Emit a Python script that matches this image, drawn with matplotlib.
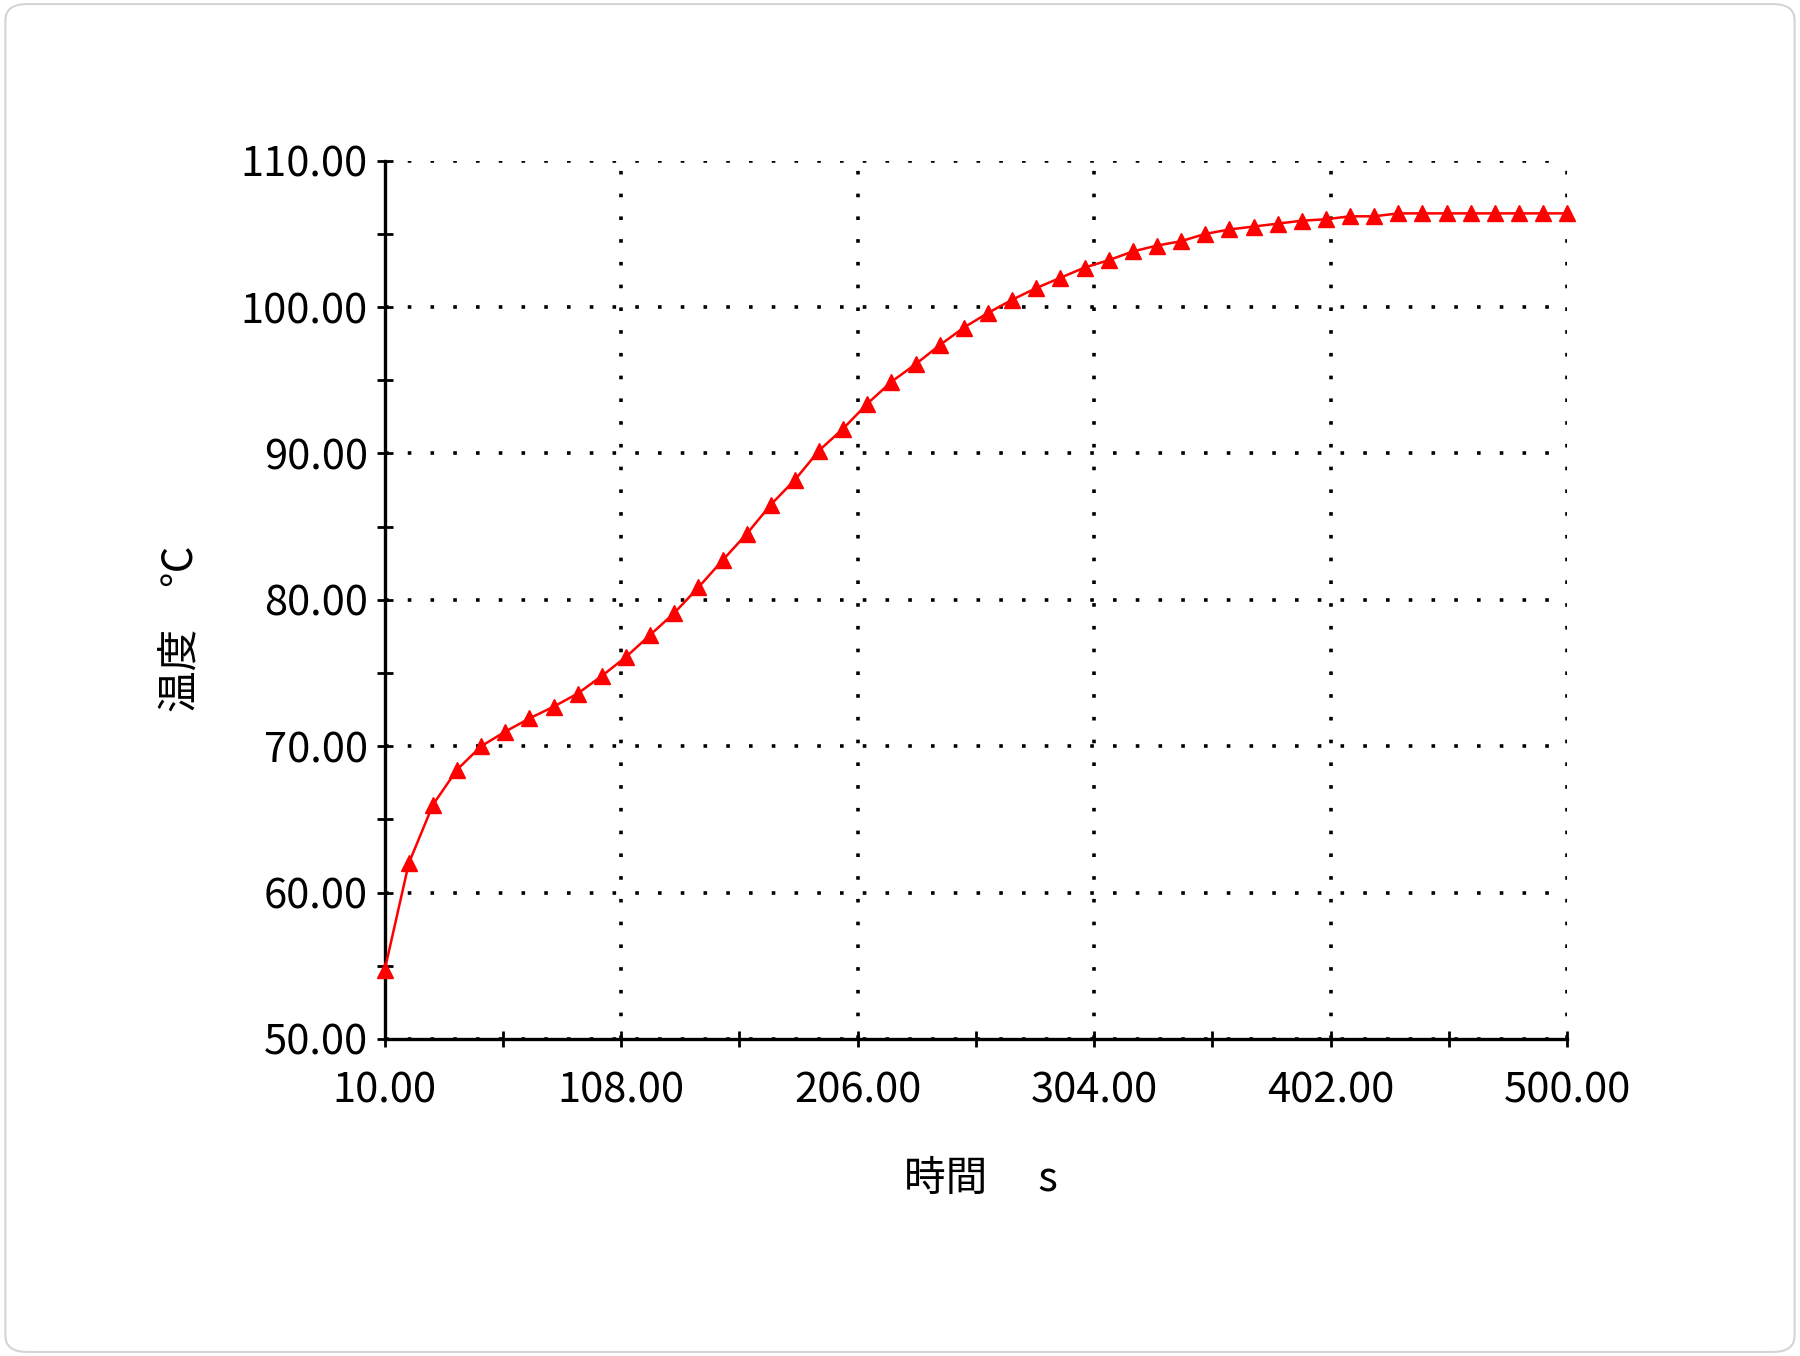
import matplotlib
matplotlib.use("Agg")
import matplotlib.pyplot as plt
from matplotlib.patches import FancyBboxPatch
from matplotlib.ticker import FixedLocator, FormatStrFormatter

# time in seconds, temperature in deg C
time_s = [10, 20, 30, 40, 50, 60, 70, 80, 90, 100,
          110, 120, 130, 140, 150, 160, 170, 180, 190, 200,
          210, 220, 230, 240, 250, 260, 270, 280, 290, 300,
          310, 320, 330, 340, 350, 360, 370, 380, 390, 400,
          410, 420, 430, 440, 450, 460, 470, 480, 490, 500]
temp_c = [54.7, 62.0, 66.0, 68.4, 70.0, 71.0, 71.9, 72.7, 73.6, 74.8,
          76.1, 77.6, 79.1, 80.85, 82.7, 84.5, 86.5, 88.2, 90.2, 91.7,
          93.4, 94.9, 96.1, 97.4, 98.6, 99.6, 100.5, 101.3, 102.0, 102.7,
          103.2, 103.8, 104.2, 104.5, 105.0, 105.3, 105.5, 105.7, 105.9, 106.0,
          106.2, 106.2, 106.4, 106.4, 106.4, 106.4, 106.4, 106.4, 106.4, 106.4]

x_major = [10, 108, 206, 304, 402, 500]
x_minor = [59, 157, 255, 353, 451]
y_major = [50, 60, 70, 80, 90, 100, 110]
y_minor = [55, 65, 75, 85, 95, 105]

plt.rcParams["font.family"] = ["Noto Sans CJK JP", "DejaVu Sans"]

fig = plt.figure(figsize=(18, 13.56), dpi=100)
fig.patches.append(FancyBboxPatch((0.003, 0.003), 0.994, 0.994,
                                  boxstyle="round,pad=0,rounding_size=0.012",
                                  transform=fig.transFigure, facecolor="white",
                                  edgecolor="#d4d4d4", linewidth=1.5, zorder=-10))

ax = fig.add_axes([0.2137, 0.2338, 0.657, 0.6477])
ax.set_facecolor("none")

ax.plot(time_s, temp_c, color="#ff0000", linewidth=1.8, marker="^",
        markersize=12, markerfacecolor="#ff0000", markeredgecolor="#ff0000",
        clip_on=False, zorder=5)

ax.set_xlim(10, 500)
ax.set_ylim(50, 110)
ax.xaxis.set_major_locator(FixedLocator(x_major))
ax.xaxis.set_minor_locator(FixedLocator(x_minor))
ax.yaxis.set_major_locator(FixedLocator(y_major))
ax.yaxis.set_minor_locator(FixedLocator(y_minor))
ax.xaxis.set_major_formatter(FormatStrFormatter("%.2f"))
ax.yaxis.set_major_formatter(FormatStrFormatter("%.2f"))

for s in ["top", "right"]:
    ax.spines[s].set_visible(False)
for s in ["left", "bottom"]:
    ax.spines[s].set_linewidth(2.4)
    ax.spines[s].set_color("black")

ax.tick_params(which="both", direction="inout", length=12, width=2, color="black")
ax.tick_params(axis="y", which="major", labelsize=30, pad=6)
ax.tick_params(axis="x", which="major", labelsize=30, pad=17)

ax.grid(True, which="major", color="black", linewidth=2.6,
        linestyle=(0, (1, 5.3)), dash_capstyle="butt")
ax.set_axisbelow(True)

ax.set_xlabel("時間　 s", fontsize=30)
ax.set_ylabel("温度　℃", fontsize=30)
ax.xaxis.set_label_coords(0.504, -0.137)
ax.yaxis.set_label_coords(-0.154, 0.467)

plt.savefig("out.png", dpi=100)
